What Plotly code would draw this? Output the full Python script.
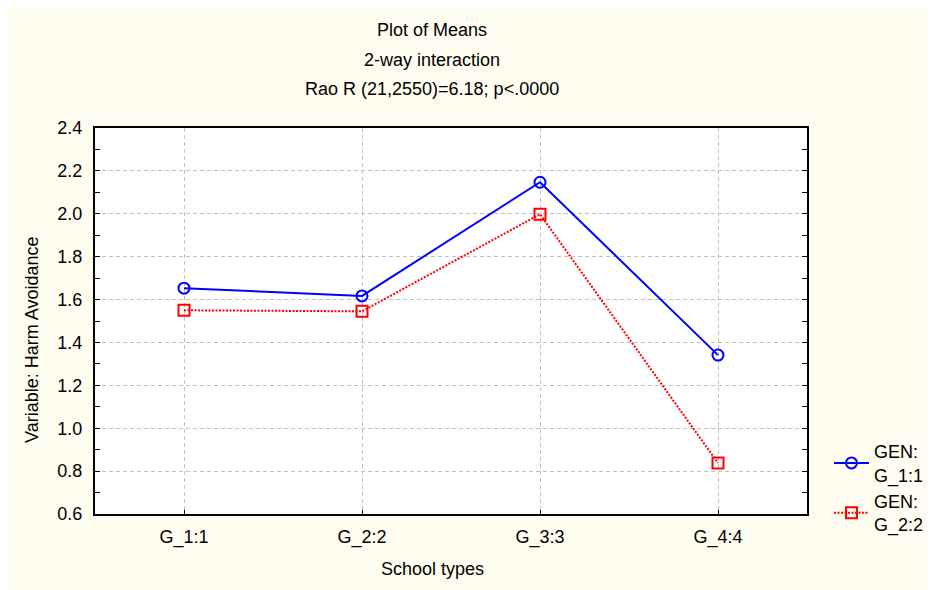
import plotly.graph_objects as go

categories = ["G_1:1", "G_2:2", "G_3:3", "G_4:4"]
gen1_values = [1.653, 1.617, 2.147, 1.341]
gen2_values = [1.550, 1.545, 1.998, 0.838]
series_names = ["GEN:<br>G_1:1", "GEN:<br>G_2:2"]
y_ticks = [0.6, 0.8, 1.0, 1.2, 1.4, 1.6, 1.8, 2.0, 2.2, 2.4]
title_lines = ["Plot of Means", "2-way interaction", "Rao R (21,2550)=6.18; p<.0000"]

W, H = 935, 590
L, R, T, B = 87, 136, 120, 84
PW, PH = W - L - R, H - T - B
CREAM = "#FFFCF0"
FONT = "Liberation Sans, Arial, sans-serif"
FS = 18


def px(x):
    return (x - L) / PW


def py(y):
    return (H - B - y) / PH


fig = go.Figure()
fig.add_trace(go.Scatter(
    x=categories, y=gen1_values, name=series_names[0], mode="lines+markers",
    line=dict(color="#0000FF", width=2),
    marker=dict(symbol="circle-open", size=11, color="#0000FF", line=dict(width=2)),
))
fig.add_trace(go.Scatter(
    x=categories, y=gen2_values, name=series_names[1], mode="lines+markers",
    line=dict(color="#FF0000", width=2, dash="2px,1.5px"),
    marker=dict(symbol="square-open", size=11, color="#FF0000", line=dict(width=2)),
))

fig.update_layout(
    width=W, height=H,
    margin=dict(l=L, r=R, t=T, b=B),
    paper_bgcolor=CREAM, plot_bgcolor="white",
    font=dict(family=FONT, size=FS, color="black"),
    showlegend=True,
    legend=dict(xref="container", yref="container", x=821 / W, y=1 - 425 / H,
                xanchor="left", yanchor="top", bgcolor="rgba(0,0,0,0)",
                font=dict(size=FS), tracegroupgap=6, itemwidth=35),
    xaxis=dict(range=[-0.5, 3.5], showline=True, linecolor="black", linewidth=2,
               mirror=True, ticks="inside", ticklen=4, tickwidth=1, tickcolor="black",
               showgrid=True, gridcolor="#C0C0C0", griddash="4px,3px", gridwidth=1,
               tickfont=dict(size=FS), zeroline=False, ticklabelstandoff=5),
    yaxis=dict(range=[0.6, 2.4], tickvals=y_ticks, tickformat=".1f",
               showline=True, linecolor="black", linewidth=2, mirror="ticks",
               ticks="inside", ticklen=5, tickwidth=1, tickcolor="black",
               showgrid=True, gridcolor="#C0C0C0", griddash="4px,3px", gridwidth=1,
               tickfont=dict(size=FS), zeroline=False, ticklabelstandoff=7,
               minor=dict(dtick=0.1, tick0=0.6, ticks="inside", ticklen=5,
                          tickcolor="black", showgrid=False)),
)

anns = []
for i, t in enumerate(title_lines):
    anns.append(dict(text=t, xref="paper", yref="paper", x=px(424), y=py(22 + 29.5 * i),
                     showarrow=False, xanchor="center", yanchor="middle",
                     font=dict(size=FS)))
anns.append(dict(text="School types", xref="paper", yref="paper", x=px(424), y=py(561),
                 showarrow=False, xanchor="center", yanchor="middle", font=dict(size=FS)))
anns.append(dict(text="Variable: Harm Avoidance", xref="paper", yref="paper", x=px(24),
                 y=py(332), showarrow=False, xanchor="center", yanchor="middle",
                 textangle=-90, font=dict(size=FS)))
fig.update_layout(annotations=anns)

fig.write_html("out.html")
